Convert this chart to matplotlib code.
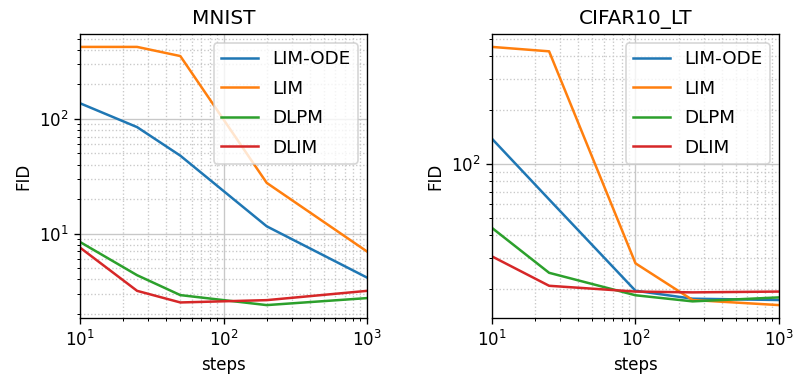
import numpy as np
import matplotlib
matplotlib.use("Agg")
import matplotlib.pyplot as plt

# values
methods = ["LIM-ODE", "LIM", "DLPM", "DLIM"]

mnist_steps = [10, 25, 50, 200, 1000]
mnist_lim_ode = [136.7, 84.7, 47.8, 11.6, 4.15]
mnist_lim = [423, 423, 352, 27.7, 7.0]
mnist_dlpm = [8.47, 4.35, 2.92, 2.39, 2.75]
mnist_dlim = [7.57, 3.18, 2.52, 2.64, 3.18]

cifar_steps = [10, 25, 100, 250, 1000]
cifar_lim_ode = [138.6, 63.5, 19.6, 17.7, 17.4]
cifar_lim = [452, 427, 27.9, 17.4, 16.3]
cifar_dlpm = [44.0, 24.7, 18.5, 17.1, 18.0]
cifar_dlim = [30.5, 20.9, 19.4, 19.2, 19.4]

panels = [
    ("MNIST", mnist_steps, [mnist_lim_ode, mnist_lim, mnist_dlpm, mnist_dlim]),
    ("CIFAR10_LT", cifar_steps, [cifar_lim_ode, cifar_lim, cifar_dlpm, cifar_dlim]),
]

fig, axes = plt.subplots(1, 2, figsize=(797 / 120, 385 / 120), dpi=120)
fig.subplots_adjust(left=0.1004, right=0.9774, bottom=0.174, top=0.9117, wspace=0.4355)

for ax, (title, steps, series) in zip(axes, panels):
    for name, vals in zip(methods, series):
        ax.plot(steps, vals, label=name)
    ax.set_xscale("log")
    ax.set_yscale("log")
    ax.set_xlim(10, 1000)
    ax.grid(True, which="major", color="#c8c8c8", linewidth=0.8)
    ax.grid(True, which="minor", linestyle=":", color="#c8c8c8", linewidth=0.8)
    ax.set_title(title)
    ax.set_xlabel("steps")
    ax.set_ylabel("FID")
    ax.legend(loc="upper right", fontsize=11, labelspacing=0.62)

fig.savefig("out.png", dpi=120)
